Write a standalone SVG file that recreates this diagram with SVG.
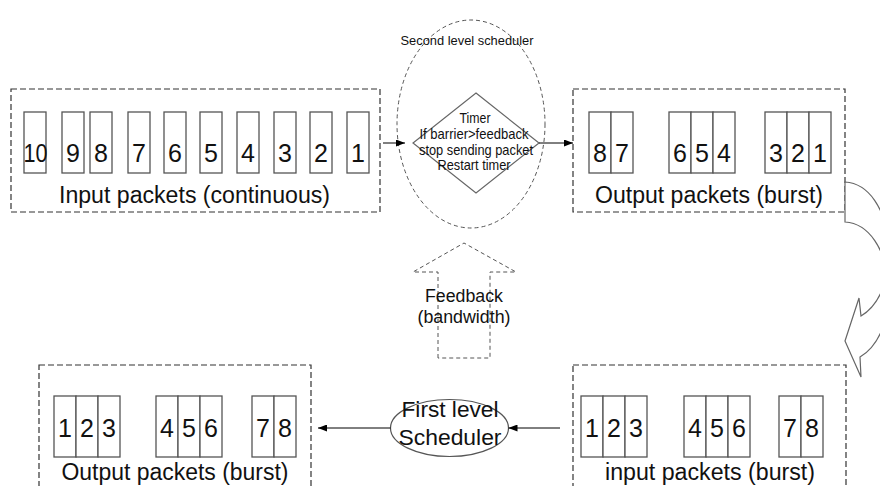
<svg xmlns="http://www.w3.org/2000/svg" width="880" height="486" viewBox="0 0 880 486">
  <defs>
    <style>
      .frame { fill: none; stroke: #333; stroke-width: 1.2; stroke-dasharray: 6 3; }
      .pkt { fill: #fff; stroke: #555; stroke-width: 1.3; }
      .num { font-family: "Liberation Sans", Arial, sans-serif; font-size: 25px; fill: #111; text-anchor: middle; }
      .cap { font-family: "Liberation Sans", Arial, sans-serif; font-size: 23px; fill: #111; text-anchor: middle; }
      .small { font-family: "Liberation Sans", Arial, sans-serif; font-size: 14.5px; fill: #111; text-anchor: middle; }
      .title { font-size: 13px; }
      .fb { font-size: 17.5px; }
      .fl { font-size: 22px; }
      .link { fill: none; stroke: #000; stroke-width: 1; }
      .ghost { fill: none; stroke: #555; stroke-width: 1; stroke-dasharray: 4 3; }
    </style>
    <marker id="head" markerUnits="userSpaceOnUse" markerWidth="9" markerHeight="7" refX="9" refY="3.5" orient="auto">
      <path d="M0,0 L9,3.5 L0,7 Z" fill="#000"/>
    </marker>
  </defs>

  <rect width="880" height="486" fill="#fff"/>

  <!-- continuous input stream -->
  <g id="input-continuous">
    <rect class="frame" x="11" y="89" width="369" height="123"/>
    <rect class="pkt" x="24" y="112" width="22" height="61"/>
    <rect class="pkt" x="62" y="112" width="22" height="61"/>
    <rect class="pkt" x="90" y="112" width="22" height="61"/>
    <rect class="pkt" x="128" y="112" width="22" height="61"/>
    <rect class="pkt" x="164" y="112" width="22" height="61"/>
    <rect class="pkt" x="200" y="112" width="22" height="61"/>
    <rect class="pkt" x="237" y="112" width="22" height="61"/>
    <rect class="pkt" x="274" y="112" width="22" height="61"/>
    <rect class="pkt" x="310" y="112" width="22" height="61"/>
    <rect class="pkt" x="347" y="112" width="22" height="61"/>
    <text class="num" x="35.5" y="162" textLength="24" lengthAdjust="spacingAndGlyphs">10</text>
    <text class="num" x="73" y="162">9</text>
    <text class="num" x="101" y="162">8</text>
    <text class="num" x="139" y="162">7</text>
    <text class="num" x="175" y="162">6</text>
    <text class="num" x="211" y="162">5</text>
    <text class="num" x="248" y="162">4</text>
    <text class="num" x="285" y="162">3</text>
    <text class="num" x="321" y="162">2</text>
    <text class="num" x="358" y="162">1</text>
    <text class="cap" x="194.5" y="203" textLength="271" lengthAdjust="spacingAndGlyphs">Input packets (continuous)</text>
  </g>

  <!-- second level scheduler -->
  <g id="second-level-scheduler">
    <ellipse class="ghost" cx="471" cy="124" rx="74" ry="104" stroke="#444"/>
    <polygon points="476,93 539,143 476,193 413,143" fill="none" stroke="#666" stroke-width="1.2"/>
    <text class="small title" x="467" y="45" textLength="133" lengthAdjust="spacingAndGlyphs">Second level scheduler</text>
    <text class="small" x="475" y="123" textLength="31" lengthAdjust="spacingAndGlyphs">Timer</text>
    <text class="small" x="474" y="139" textLength="109" lengthAdjust="spacingAndGlyphs">If barrier&gt;feedback</text>
    <text class="small" x="476" y="155" textLength="114" lengthAdjust="spacingAndGlyphs">stop sending packet</text>
    <text class="small" x="474" y="170" textLength="73" lengthAdjust="spacingAndGlyphs">Restart timer</text>
  </g>

  <!-- burst output after second level -->
  <g id="output-burst-top">
    <rect class="frame" x="573" y="89" width="272" height="123"/>
    <rect class="pkt" x="589" y="112" width="22" height="61"/>
    <rect class="pkt" x="611" y="112" width="22" height="61"/>
    <rect class="pkt" x="669" y="112" width="22" height="61"/>
    <rect class="pkt" x="691" y="112" width="22" height="61"/>
    <rect class="pkt" x="713" y="112" width="22" height="61"/>
    <rect class="pkt" x="765" y="112" width="22" height="61"/>
    <rect class="pkt" x="787" y="112" width="22" height="61"/>
    <rect class="pkt" x="809" y="112" width="22" height="61"/>
    <text class="num" x="600" y="162">8</text>
    <text class="num" x="622" y="162">7</text>
    <text class="num" x="680" y="162">6</text>
    <text class="num" x="702" y="162">5</text>
    <text class="num" x="724" y="162">4</text>
    <text class="num" x="776" y="162">3</text>
    <text class="num" x="798" y="162">2</text>
    <text class="num" x="820" y="162">1</text>
    <text class="cap" x="709" y="203" textLength="228" lengthAdjust="spacingAndGlyphs">Output packets (burst)</text>
  </g>

  <!-- bandwidth feedback -->
  <g id="feedback">
    <path class="ghost" d="M438,358 L438,272 L413,272 L464,243 L516,272 L490,272 L490,358 Z" stroke="#666"/>
    <text class="small fb" x="464" y="302" textLength="78" lengthAdjust="spacingAndGlyphs">Feedback</text>
    <text class="small fb" x="464" y="323" textLength="93" lengthAdjust="spacingAndGlyphs">(bandwidth)</text>
  </g>

  <!-- first level scheduler -->
  <g id="first-level-scheduler">
    <ellipse cx="449.5" cy="428" rx="59" ry="28.5" fill="#fff" stroke="#555" stroke-width="1.2"/>
    <text class="cap fl" x="450" y="417" textLength="97" lengthAdjust="spacingAndGlyphs">First level</text>
    <text class="cap fl" x="450" y="445" textLength="103" lengthAdjust="spacingAndGlyphs">Scheduler</text>
  </g>

  <!-- burst output after first level -->
  <g id="output-burst-bottom">
    <rect class="frame" x="39" y="365" width="272" height="140"/>
    <rect class="pkt" x="54" y="396" width="22" height="61"/>
    <rect class="pkt" x="76" y="396" width="22" height="61"/>
    <rect class="pkt" x="98" y="396" width="22" height="61"/>
    <rect class="pkt" x="156" y="396" width="22" height="61"/>
    <rect class="pkt" x="178" y="396" width="22" height="61"/>
    <rect class="pkt" x="200" y="396" width="22" height="61"/>
    <rect class="pkt" x="252" y="396" width="22" height="61"/>
    <rect class="pkt" x="274" y="396" width="22" height="61"/>
    <text class="num" x="65" y="437">1</text>
    <text class="num" x="87" y="437">2</text>
    <text class="num" x="109" y="437">3</text>
    <text class="num" x="167" y="437">4</text>
    <text class="num" x="189" y="437">5</text>
    <text class="num" x="211" y="437">6</text>
    <text class="num" x="263" y="437">7</text>
    <text class="num" x="285" y="437">8</text>
    <text class="cap" x="175" y="480" textLength="227" lengthAdjust="spacingAndGlyphs">Output packets (burst)</text>
  </g>

  <!-- burst input to first level -->
  <g id="input-burst-bottom">
    <rect class="frame" x="573" y="365" width="273" height="140"/>
    <rect class="pkt" x="581" y="396" width="22" height="61"/>
    <rect class="pkt" x="603" y="396" width="22" height="61"/>
    <rect class="pkt" x="625" y="396" width="22" height="61"/>
    <rect class="pkt" x="684" y="396" width="22" height="61"/>
    <rect class="pkt" x="706" y="396" width="22" height="61"/>
    <rect class="pkt" x="728" y="396" width="22" height="61"/>
    <rect class="pkt" x="779" y="396" width="22" height="61"/>
    <rect class="pkt" x="801" y="396" width="22" height="61"/>
    <text class="num" x="592" y="437">1</text>
    <text class="num" x="614" y="437">2</text>
    <text class="num" x="636" y="437">3</text>
    <text class="num" x="695" y="437">4</text>
    <text class="num" x="717" y="437">5</text>
    <text class="num" x="739" y="437">6</text>
    <text class="num" x="790" y="437">7</text>
    <text class="num" x="812" y="437">8</text>
    <text class="cap" x="710" y="480" textLength="210" lengthAdjust="spacingAndGlyphs">input packets (burst)</text>
  </g>

  <!-- connectors -->
  <g id="connectors">
    <path class="link" d="M383,143 L405,143" marker-end="url(#head)"/>
    <path class="link" d="M539,143 L573,143" marker-end="url(#head)"/>
    <path class="link" d="M560,428 L508.5,428" marker-end="url(#head)"/>
    <path class="link" d="M390.5,428 L318,428" marker-end="url(#head)"/>
    <!-- curved hand-over arrow, runs off the right edge -->
    <path d="M845,182 L845,222 C895,225 905,330 860,357 L861,377 L845,341 L859,298 L861,316 C905,290 895,185 845,182 Z" fill="#fff" stroke="#666" stroke-width="1.2" stroke-linejoin="miter"/>
  </g>
</svg>
